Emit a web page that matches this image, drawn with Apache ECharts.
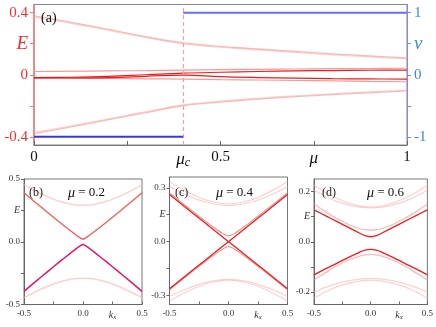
<!DOCTYPE html>
<html><head><meta charset="utf-8">
<script src="https://cdn.jsdelivr.net/npm/echarts@6/dist/echarts.min.js"></script>
<style>html,body{margin:0;padding:0;background:#fff}#c{width:436px;height:327px}</style>
</head><body><div id="c"></div>
<script>
// ---------- Panel (a): E and winding number vs mu ----------
const muGrid = [0, 0.1, 0.2, 0.3, 0.4, 0.5, 0.6, 0.7, 0.8, 0.9, 1.0];
const aBandUp1 = [0.380, 0.338, 0.292, 0.245, 0.205, 0.183, 0.166, 0.150, 0.135, 0.121, 0.108];
const aBandUp2 = [0.372, 0.332, 0.287, 0.240, 0.200, 0.178, 0.160, 0.144, 0.129, 0.115, 0.102];
const aBandDn1 = [-0.380, -0.336, -0.290, -0.244, -0.200, -0.176, -0.157, -0.141, -0.128, -0.116, -0.104];
const aBandDn2 = [-0.372, -0.330, -0.284, -0.238, -0.195, -0.171, -0.152, -0.136, -0.123, -0.111, -0.099];
const aNearP1 = [0.021, 0.023, 0.025, 0.027, 0.030, 0.033, 0.035, 0.037, 0.039, 0.040, 0.042];
const aNearR1 = [-0.019, -0.016, -0.010, 0.000, 0.010, 0.016, 0.021, 0.025, 0.027, 0.029, 0.030];
const aNearR2 = [-0.021, -0.020, -0.018, -0.010, -0.002, -0.012, -0.018, -0.022, -0.025, -0.027, -0.028];
const aNearP2 = [-0.021, -0.022, -0.024, -0.026, -0.028, -0.031, -0.034, -0.037, -0.040, -0.043, -0.045];
const muC = 0.4;
const nuLeftMu = [0, muC], nuLeftVal = [-1, -1];
const nuRightMu = [muC, 1], nuRightVal = [1, 1];
const aXTicks = [0, 0.25, 0.5, 0.75, 1];
const aXLabels = [0, muC, 0.5, 0.75, 1];
const aETicks = [-0.4, -0.2, 0, 0.2, 0.4];
const aELabels = [-0.4, 0, 0.2, 0.4];
const aNuTicks = [-1, -0.5, 0, 0.5, 1];
const aNuLabels = [-1, 0, 0.5, 1];

// ---------- Bottom panels: E vs kx ----------
const kGrid = [-0.5, -0.4, -0.3, -0.2, -0.1, -0.05, 0, 0.05, 0.1, 0.2, 0.3, 0.4, 0.5];
// (b) mu = 0.2
const bRedUp  = [0.390, 0.311, 0.234, 0.158, 0.083, 0.048, 0.020, 0.048, 0.083, 0.158, 0.234, 0.311, 0.390];
const bRedDn  = [-0.395, -0.316, -0.238, -0.161, -0.086, -0.050, -0.022, -0.050, -0.086, -0.161, -0.238, -0.316, -0.395];
const bPaleUp = [0.453, 0.403, 0.358, 0.322, 0.298, 0.292, 0.290, 0.292, 0.298, 0.322, 0.358, 0.403, 0.453];
const bPaleDn = [-0.445, -0.398, -0.355, -0.320, -0.297, -0.292, -0.290, -0.292, -0.297, -0.320, -0.355, -0.398, -0.445];
// (c) mu = 0.4
const cX1 = [0.262, 0.210, 0.157, 0.105, 0.052, 0.026, 0.000, -0.026, -0.052, -0.105, -0.157, -0.210, -0.262];
const cX2 = [-0.262, -0.210, -0.157, -0.105, -0.052, -0.026, 0.000, 0.026, 0.052, 0.105, 0.157, 0.210, 0.262];
const cGapUp = [0.272, 0.219, 0.167, 0.116, 0.068, 0.046, 0.032, 0.046, 0.068, 0.116, 0.167, 0.219, 0.272];
const cGapDn = [-0.268, -0.215, -0.163, -0.112, -0.064, -0.042, -0.027, -0.042, -0.064, -0.112, -0.163, -0.215, -0.268];
const cPaleUp1 = [0.334, 0.296, 0.262, 0.234, 0.218, 0.212, 0.210, 0.212, 0.218, 0.234, 0.262, 0.296, 0.334];
const cPaleUp2 = [0.305, 0.272, 0.244, 0.222, 0.207, 0.203, 0.201, 0.203, 0.207, 0.222, 0.244, 0.272, 0.305];
const cPaleDn1 = [-0.305, -0.275, -0.249, -0.228, -0.215, -0.211, -0.210, -0.211, -0.215, -0.228, -0.249, -0.275, -0.305];
const cPaleDn2 = [-0.330, -0.294, -0.262, -0.237, -0.221, -0.216, -0.214, -0.216, -0.221, -0.237, -0.262, -0.294, -0.330];
// (d) mu = 0.6
const dRedUp = [0.127, 0.104, 0.081, 0.058, 0.035, 0.024, 0.020, 0.024, 0.035, 0.058, 0.081, 0.104, 0.127];
const dRedDn = [-0.132, -0.108, -0.086, -0.063, -0.042, -0.033, -0.030, -0.033, -0.042, -0.063, -0.086, -0.108, -0.132];
const dNearUp = [0.150, 0.120, 0.093, 0.070, 0.053, 0.048, 0.046, 0.048, 0.053, 0.070, 0.093, 0.120, 0.150];
const dNearDn = [-0.152, -0.124, -0.097, -0.074, -0.057, -0.052, -0.050, -0.052, -0.057, -0.074, -0.097, -0.124, -0.152];
const dTopA = [0.225, 0.197, 0.173, 0.155, 0.143, 0.140, 0.139, 0.140, 0.143, 0.155, 0.173, 0.197, 0.225];
const dTopB = [0.205, 0.181, 0.161, 0.147, 0.138, 0.136, 0.135, 0.136, 0.138, 0.147, 0.161, 0.181, 0.205];
const dBotA = [-0.200, -0.182, -0.167, -0.156, -0.149, -0.147, -0.146, -0.147, -0.149, -0.156, -0.167, -0.182, -0.200];
const dBotB = [-0.225, -0.200, -0.180, -0.166, -0.157, -0.154, -0.153, -0.154, -0.157, -0.166, -0.180, -0.200, -0.225];
const kTicks = [-0.5, -0.25, 0, 0.25, 0.5];
const kLabels = [-0.5, 0, 0.25, 0.5];

const FONT = '"Liberation Serif", "Times New Roman", serif';
const near = (a, b) => Math.abs(a - b) < 1e-9;
const pairs = (xs, ys) => xs.map((x, i) => [x, ys[i]]);

function ln(xs, ys, xi, yi, color, width, extra) {
  return Object.assign({
    type: 'line', xAxisIndex: xi, yAxisIndex: yi, data: pairs(xs, ys),
    showSymbol: false, symbol: 'none', smooth: 0.4, silent: true,
    lineStyle: { color: color, width: width }
  }, extra || {});
}

const PALE = 'rgba(246,150,150,0.65)';
const VPALE = 'rgba(248,180,180,0.6)';
const RED = '#ee1c1c';

const bottomX = (gi) => ({
  type: 'value', gridIndex: gi, min: -0.5, max: 0.5,
  axisLine: { onZero: false, lineStyle: { color: '#666', width: 1 } },
  axisTick: { inside: true, length: 3, customValues: kTicks, lineStyle: { color: '#666' } },
  splitLine: { show: false },
  axisLabel: {
    customValues: kLabels, margin: 5, fontFamily: FONT, fontSize: 9, color: '#333',
    formatter: v => near(v, 0.25) ? '{i|k}{s|x}' : (near(v, 0) ? '0.0' : v.toFixed(1)),
    rich: { i: { fontStyle: 'italic', fontFamily: FONT, fontSize: 10, color: '#333' },
            s: { fontStyle: 'italic', fontFamily: FONT, fontSize: 7, color: '#333', padding: [4, 0, 0, 0] } }
  }
});
const bottomY = (gi, min, max, ticks, labels, eVal) => ({
  type: 'value', gridIndex: gi, min: min, max: max,
  axisLine: { show: true, onZero: false, lineStyle: { color: '#666', width: 1 } },
  axisTick: { show: true, inside: false, length: 3, customValues: ticks, lineStyle: { color: '#666' } },
  splitLine: { show: false },
  axisLabel: {
    customValues: labels, margin: 4, fontFamily: FONT, fontSize: 9, color: '#333',
    formatter: v => near(v, eVal) ? '{i|E}' : (near(v, 0) ? '0.0' : v.toFixed(1)),
    rich: { i: { fontStyle: 'italic', fontFamily: FONT, fontSize: 10, color: '#333' } }
  }
});

const titleRich = { i: { fontStyle: 'italic', fontFamily: FONT, fontSize: 14, color: '#111' } };

const option = {
  animation: false,
  backgroundColor: '#fff',
  title: [
    { text: '(a)', left: 36, top: 6, textStyle: { fontFamily: FONT, fontSize: 14, fontWeight: 'normal', color: '#111' } },
    { text: '(b)', left: 24, top: 182, textStyle: { fontFamily: FONT, fontSize: 12, fontWeight: 'normal', color: '#222' } },
    { text: '{i|μ} = 0.2', left: 63, top: 181, textStyle: { fontFamily: FONT, fontSize: 13, fontWeight: 'normal', color: '#111', rich: titleRich } },
    { text: '(c)', left: 170, top: 182, textStyle: { fontFamily: FONT, fontSize: 12, fontWeight: 'normal', color: '#222' } },
    { text: '{i|μ} = 0.4', left: 211, top: 181, textStyle: { fontFamily: FONT, fontSize: 13, fontWeight: 'normal', color: '#111', rich: titleRich } },
    { text: '(d)', left: 317, top: 182, textStyle: { fontFamily: FONT, fontSize: 12, fontWeight: 'normal', color: '#222' } },
    { text: '{i|μ} = 0.6', left: 362, top: 181, textStyle: { fontFamily: FONT, fontSize: 13, fontWeight: 'normal', color: '#111', rich: titleRich } }
  ],
  grid: [
    { left: 34, top: 4.5, width: 373, height: 140.5, show: true, borderColor: '#888', borderWidth: 1 },
    { left: 24, top: 179, width: 118, height: 125.5, show: true, borderColor: '#777', borderWidth: 1 },
    { left: 169.5, top: 177, width: 118, height: 127.5, show: true, borderColor: '#777', borderWidth: 1 },
    { left: 314, top: 179, width: 114, height: 125.5, show: true, borderColor: '#777', borderWidth: 1 }
  ],
  xAxis: [
    {
      type: 'value', gridIndex: 0, min: 0, max: 1,
      axisLine: { onZero: false, lineStyle: { color: '#777', width: 1 } },
      axisTick: { inside: true, length: 4, customValues: aXTicks, lineStyle: { color: '#666' } },
      splitLine: { show: false },
      axisLabel: {
        customValues: aXLabels, margin: 5, fontFamily: FONT, fontSize: 15, color: '#111',
        formatter: v => near(v, muC) ? '{i|μ}{s|c}' : (near(v, 0.75) ? '{i|μ}' : String(v)),
        rich: { i: { fontStyle: 'italic', fontFamily: FONT, fontSize: 17, color: '#111' },
                s: { fontStyle: 'italic', fontFamily: FONT, fontSize: 12, color: '#111', padding: [7, 0, 0, 0] } }
      }
    },
    bottomX(1), bottomX(2), bottomX(3)
  ],
  yAxis: [
    {
      type: 'value', gridIndex: 0, min: -0.453, max: 0.453,
      axisLine: { show: true, onZero: false, lineStyle: { color: '#f27a7a', width: 1.5 } },
      axisTick: { show: true, inside: false, length: 4, customValues: aETicks, lineStyle: { color: '#f27a7a' } },
      splitLine: { show: false },
      axisLabel: {
        customValues: aELabels, margin: 6, fontFamily: FONT, fontSize: 15, color: '#ee3030',
        formatter: v => near(v, 0.2) ? '{i|E}' : String(v),
        rich: { i: { fontStyle: 'italic', fontFamily: FONT, fontSize: 19, color: '#ee3030' } }
      }
    },
    {
      type: 'value', gridIndex: 0, position: 'right', min: -1.133, max: 1.133,
      axisLine: { show: true, onZero: false, lineStyle: { color: '#8585f2', width: 1 } },
      axisTick: { show: true, inside: false, length: 4, customValues: aNuTicks, lineStyle: { color: '#8585f2' } },
      splitLine: { show: false },
      axisLabel: {
        customValues: aNuLabels, margin: 7, fontFamily: FONT, fontSize: 15, color: '#3b8bd4',
        formatter: v => near(v, 0.5) ? '{i|ν}' : String(v),
        rich: { i: { fontStyle: 'italic', fontFamily: FONT, fontSize: 19, color: '#3b8bd4' } }
      }
    },
    bottomY(1, -0.5, 0.5, [-0.5, -0.25, 0, 0.25, 0.5], [-0.5, 0, 0.25, 0.5], 0.25),
    bottomY(2, -0.35, 0.36, [-0.3, -0.15, 0, 0.15, 0.3], [-0.3, 0, 0.15, 0.3], 0.15),
    bottomY(3, -0.25, 0.25, [-0.2, -0.1, 0, 0.1, 0.2], [-0.2, 0, 0.1, 0.2], 0.1)
  ],
  series: [
    // panel (a)
    ln(muGrid, aBandUp1, 0, 0, PALE, 1.3),
    ln(muGrid, aBandUp2, 0, 0, VPALE, 1.3),
    ln(muGrid, aBandDn1, 0, 0, PALE, 1.3),
    ln(muGrid, aBandDn2, 0, 0, VPALE, 1.3),
    ln(muGrid, aNearP1, 0, 0, '#f59a9a', 1.2),
    ln(muGrid, aNearP2, 0, 0, '#f59a9a', 1.2),
    ln(muGrid, aNearR1, 0, 0, RED, 1.2),
    ln(muGrid, aNearR2, 0, 0, RED, 1.2),
    ln(nuLeftMu, nuLeftVal, 0, 1, '#3535ee', 2, { smooth: false, z: 5,
      markLine: { silent: true, symbol: 'none', label: { show: false },
        lineStyle: { color: '#f2a0a0', type: [4, 3], width: 1.2 },
        data: [{ xAxis: muC }] } }),
    ln(nuRightMu, nuRightVal, 0, 1, '#6c6cf0', 2, { smooth: false, z: 5 }),
    // panel (b)
    ln(kGrid, bPaleUp, 1, 2, VPALE, 1.5),
    ln(kGrid, bPaleDn, 1, 2, VPALE, 1.5),
    ln(kGrid, bRedUp, 1, 2, '#f25a5a', 1.3, { smooth: 0.2 }),
    ln(kGrid, bRedDn, 1, 2, '#e3156e', 1.5, { smooth: 0.2 }),
    // panel (c)
    ln(kGrid, cPaleUp1, 2, 3, VPALE, 1.2),
    ln(kGrid, cPaleUp2, 2, 3, VPALE, 1.2),
    ln(kGrid, cPaleDn1, 2, 3, VPALE, 1.2),
    ln(kGrid, cPaleDn2, 2, 3, VPALE, 1.2),
    ln(kGrid, cGapUp, 2, 3, 'rgba(240,110,110,0.8)', 1.1),
    ln(kGrid, cGapDn, 2, 3, 'rgba(240,110,110,0.8)', 1.1),
    ln(kGrid, cX1, 2, 3, RED, 1.3, { smooth: false }),
    ln(kGrid, cX2, 2, 3, RED, 1.3, { smooth: false }),
    // panel (d)
    ln(kGrid, dTopA, 3, 4, VPALE, 1.2),
    ln(kGrid, dTopB, 3, 4, VPALE, 1.2),
    ln(kGrid, dBotA, 3, 4, VPALE, 1.2),
    ln(kGrid, dBotB, 3, 4, VPALE, 1.2),
    ln(kGrid, dNearUp, 3, 4, PALE, 1.2),
    ln(kGrid, dNearDn, 3, 4, PALE, 1.2),
    ln(kGrid, dRedUp, 3, 4, RED, 1.3),
    ln(kGrid, dRedDn, 3, 4, RED, 1.3)
  ]
};
const chart = echarts.init(document.getElementById('c'), null, { renderer: 'canvas' });
chart.setOption(option);
</script></body></html>
